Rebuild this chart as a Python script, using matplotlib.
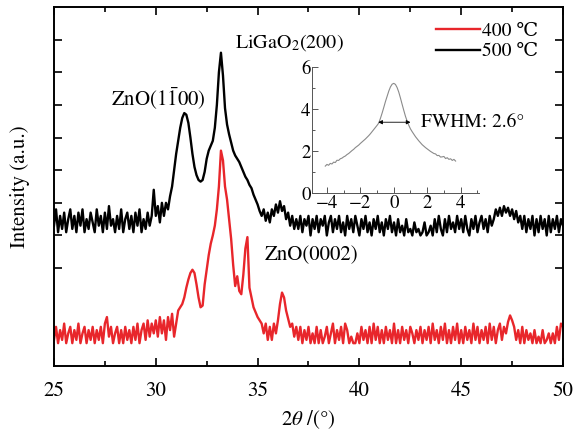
"""XRD patterns of ZnO films on LiGaO2 grown at 400 and 500 C, with rocking-curve inset."""

import numpy as np
import matplotlib.pyplot as plt
from matplotlib.ticker import MultipleLocator

plt.rcParams["font.family"] = ["STIXGeneral", "DejaVu Serif"]
plt.rcParams["mathtext.fontset"] = "stix"

# 2theta grid of the scan, 0.1 degree step
two_theta = np.round(25.0 + 0.1 * np.arange(251), 1)

# 500 C sample (offset upward)
i_500 = [
    4.3, 4.8, 4.1, 4.6, 4.2, 4.7, 4.1, 4.5, 4.8, 4.2,
    4.6, 4.1, 4.7, 4.3, 4.8, 4.1, 4.5, 4.2, 4.7, 4.4,
    4.1, 4.8, 4.3, 4.6, 4.1, 4.7, 4.2, 4.9, 4.3, 4.5,
    4.1, 4.6, 4.2, 4.8, 4.1, 4.5, 4.7, 4.2, 4.6, 4.1,
    4.7, 4.3, 4.8, 4.1, 4.5, 4.2, 4.7, 4.3, 4.6, 5.4,
    4.6, 4.9, 4.4, 5.0, 4.6, 5.0, 4.8, 5.2, 5.5, 6.0,
    6.5, 6.9, 7.3, 7.6, 7.75, 7.7, 7.45, 7.0, 6.5, 6.1,
    5.85, 5.7, 5.65, 5.7, 5.95, 6.35, 6.6, 6.75, 6.9, 7.3,
    8.0, 9.0, 9.6, 8.9, 7.9, 7.4, 7.1, 6.85, 6.6, 6.45,
    6.35, 6.25, 6.1, 5.95, 5.8, 5.7, 5.55, 5.45, 5.25, 5.1,
    4.95, 4.75, 4.6, 4.8, 4.45, 4.7, 4.4, 4.8, 4.6, 4.95,
    4.7, 5.05, 4.75, 4.9, 4.5, 4.7, 4.3, 4.6, 4.2, 4.5,
    4.2, 4.6, 4.1, 4.5, 4.3, 4.6, 4.0, 4.5, 4.2, 4.6,
    4.1, 4.5, 4.3, 4.6, 4.0, 4.4, 4.6, 4.1, 4.5, 4.2,
    4.6, 4.1, 4.4, 4.0, 4.6, 4.2, 4.5, 4.1, 4.6, 4.3,
    4.0, 4.5, 4.2, 4.6, 4.1, 4.4, 4.0, 4.5, 4.2, 4.6,
    4.1, 4.4, 4.0, 4.5, 4.2, 4.6, 4.1, 4.4, 4.0, 4.5,
    4.1, 4.3, 4.0, 4.5, 4.1, 4.2, 4.0, 4.4, 4.1, 4.2,
    4.0, 4.1, 4.4, 4.0, 4.1, 4.3, 4.0, 4.5, 4.1, 4.6,
    4.2, 4.0, 4.5, 4.1, 4.6, 4.2, 4.4, 4.1, 4.6, 4.2,
    4.5, 4.1, 4.6, 4.2, 4.0, 4.5, 4.2, 4.6, 4.1, 4.4,
    4.6, 4.2, 4.5, 4.1, 4.6, 4.3, 4.5, 4.8, 4.6, 4.85,
    4.6, 4.9, 4.7, 4.85, 4.6, 4.8, 4.5, 4.75, 4.4, 4.6,
    4.2, 4.6, 4.1, 4.5, 4.2, 4.6, 4.0, 4.5, 4.1, 4.6,
    4.2, 4.5, 4.0, 4.6, 4.1, 4.5, 4.2, 4.6, 4.1, 4.5,
    4.3,
]

# 400 C sample
i_400 = [
    0.8, 1.2, 0.7, 1.1, 0.8, 1.3, 0.7, 1.0, 1.2, 0.7,
    1.1, 0.8, 1.3, 0.7, 1.0, 1.2, 0.7, 1.1, 0.8, 1.2,
    0.7, 1.1, 0.8, 1.2, 0.7, 1.3, 1.5, 0.9, 1.2, 0.7,
    1.0, 1.2, 0.7, 1.1, 0.7, 1.2, 0.8, 1.1, 0.7, 1.2,
    0.8, 1.3, 0.7, 1.1, 1.3, 0.8, 1.4, 0.9, 1.3, 1.0,
    1.4, 0.9, 1.5, 1.0, 1.4, 0.8, 1.5, 1.1, 1.6, 0.9,
    1.3, 1.7, 1.8, 1.9, 2.1, 2.4, 2.65, 2.85, 2.95, 2.85,
    2.5, 2.1, 1.8, 1.85, 2.5, 2.95, 3.4, 3.75, 4.0, 4.3,
    4.8, 5.5, 6.6, 6.3, 5.5, 5.1, 4.5, 3.9, 3.1, 2.45,
    2.75, 2.3, 2.2, 2.8, 3.6, 3.95, 2.4, 2.1, 1.8, 1.65,
    1.5, 1.4, 1.3, 1.0, 1.3, 0.8, 1.2, 0.8, 1.3, 1.0,
    1.4, 1.9, 2.25, 2.1, 1.7, 1.45, 1.2, 1.3, 0.9, 1.2,
    0.8, 1.2, 0.7, 1.1, 0.8, 1.2, 0.7, 1.0, 0.7, 1.2,
    0.7, 1.1, 0.7, 0.9, 1.2, 0.7, 1.0, 1.3, 0.7, 1.1,
    0.8, 1.2, 0.7, 1.3, 1.1, 0.7, 0.9, 0.7, 0.7, 1.0,
    0.7, 1.2, 0.8, 1.1, 0.7, 1.2, 0.7, 1.3, 0.8, 1.2,
    0.7, 1.1, 0.7, 1.2, 0.8, 1.1, 0.7, 1.3, 0.7, 1.1,
    0.7, 1.2, 0.8, 1.1, 0.7, 1.2, 1.0, 0.7, 1.1, 0.8,
    1.2, 0.7, 1.1, 0.8, 1.2, 0.7, 1.3, 0.8, 1.1, 0.7,
    1.2, 0.8, 1.3, 0.7, 1.1, 0.7, 1.2, 0.8, 1.3, 0.7,
    1.1, 0.7, 1.2, 0.8, 1.1, 0.7, 1.3, 0.8, 1.2, 0.7,
    1.1, 0.8, 1.2, 0.7, 1.3, 0.8, 1.2, 0.7, 1.1, 1.3,
    0.8, 1.2, 1.0, 1.35, 1.55, 1.4, 1.2, 0.8, 1.1, 0.7,
    1.2, 0.7, 1.1, 0.8, 1.0, 0.7, 1.1, 0.7, 0.9, 0.7,
    1.1, 0.7, 0.8, 1.0, 0.7, 1.0, 0.7, 1.2, 0.8, 1.3,
    1.2,
]

# inset: rocking curve, omega offset (deg) and intensity
omega = np.round(-4.1 + 0.1 * np.arange(79), 1)
rock = [
    1.28, 1.36, 1.32, 1.41, 1.38, 1.47, 1.45, 1.56, 1.55, 1.63,
    1.66, 1.72, 1.76, 1.83, 1.88, 1.95, 2.02, 2.08, 2.16, 2.22,
    2.28, 2.36, 2.43, 2.50, 2.57, 2.65, 2.73, 2.82, 2.92, 3.02,
    3.12, 3.22, 3.33, 3.55, 3.80, 4.07, 4.35, 4.60, 4.85, 5.05,
    5.18, 5.22, 5.17, 5.02, 4.80, 4.52, 4.22, 3.93, 3.65, 3.42,
    3.22, 3.05, 2.92, 2.80, 2.68, 2.58, 2.48, 2.39, 2.30, 2.23,
    2.16, 2.10, 2.04, 1.98, 1.93, 1.88, 1.86, 1.78, 1.79, 1.71,
    1.72, 1.74, 1.64, 1.68, 1.60, 1.63, 1.55, 1.60, 1.52,
]

assert len(i_500) == len(two_theta) and len(i_400) == len(two_theta)
assert len(rock) == len(omega)

red = "#e8262b"

fig = plt.figure(figsize=(5.83, 4.33), dpi=100)
ax = fig.add_axes([0.0926, 0.1547, 0.8731, 0.8291])

ax.plot(two_theta, i_400, color=red, lw=1.7, label="400 ℃")
ax.plot(two_theta, i_500, color="black", lw=1.7, label="500 ℃")

ax.set_xlim(25, 50)
ax.set_ylim(0, 11)
ax.xaxis.set_major_locator(MultipleLocator(5))
ax.xaxis.set_minor_locator(MultipleLocator(2.5))
ax.set_yticks(np.arange(3, 11))
ax.set_yticklabels([])
ax.tick_params(which="both", direction="in", top=True, right=True,
               labelsize=15, width=1.2)
ax.tick_params(which="major", length=6)
ax.tick_params(which="minor", length=3.5)
ax.tick_params(axis="x", pad=11)
for s in ax.spines.values():
    s.set_linewidth(1.4)

ax.set_xlabel(r"$\mathit{2}\theta$ /(°)", fontsize=15, labelpad=5)
ax.set_ylabel("Intensity (a.u.)", fontsize=15, labelpad=14)

ax.text(36.55, 9.9, r"LiGaO$_2$(200)", fontsize=14.5, ha="center", va="center")
ax.text(30.15, 8.2, r"ZnO(1$\bar{1}$00)", fontsize=15, ha="center", va="center")
ax.text(37.65, 3.4, "ZnO(0002)", fontsize=15, ha="center", va="center")

ax.legend(loc="upper right", bbox_to_anchor=(0.975, 0.99), frameon=False,
          fontsize=14, handlelength=2.3, handletextpad=0.1,
          labelspacing=0.15, borderaxespad=0.2)

# inset
ins = fig.add_axes([0.535, 0.5543, 0.2866, 0.291])
ins.patch.set_alpha(0)
ins.plot(omega, rock, color="#8a8a8a", lw=0.8)
ins.set_xlim(-4.9, 5.1)
ins.set_ylim(0, 6)
ins.xaxis.set_major_locator(MultipleLocator(2))
ins.xaxis.set_minor_locator(MultipleLocator(1))
ins.yaxis.set_major_locator(MultipleLocator(2))
ins.yaxis.set_minor_locator(MultipleLocator(1))
ins.spines["top"].set_visible(False)
ins.spines["right"].set_visible(False)
for s in ("left", "bottom"):
    ins.spines[s].set_linewidth(0.7)
    ins.spines[s].set_color("#555555")
ins.tick_params(which="both", direction="in", labelsize=13.5, width=0.7,
                color="#555555", pad=1)
ins.tick_params(which="major", length=4)
ins.tick_params(which="minor", length=2)
ins.annotate("", xy=(-0.93, 3.37), xytext=(1.0, 3.37),
             arrowprops=dict(arrowstyle="<|-|>", color="black", lw=0.6,
                             mutation_scale=6, shrinkA=0, shrinkB=0))
ins.text(1.6, 3.37, "FWHM: 2.6°", fontsize=14, ha="left", va="center")

fig.savefig("out.png", dpi=100)
